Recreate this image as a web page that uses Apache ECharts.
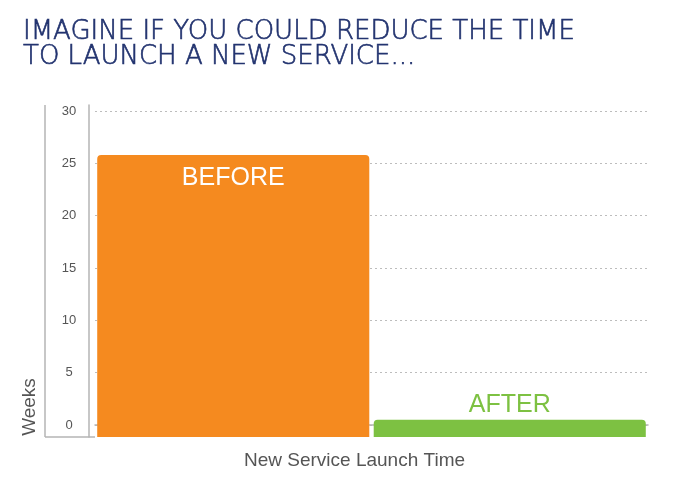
<!DOCTYPE html>
<html>
<head>
<meta charset="utf-8">
<script src="https://cdn.jsdelivr.net/npm/echarts@6/dist/echarts.min.js"></script>
<style>
	html, body { margin: 0; padding: 0; background: #fff; }
	#main { width: 680px; height: 497px; }
</style>
</head>
<body>
<div id="main"></div>
<script>
// 数据
const categories = ['BEFORE', 'AFTER'];
const weeks = [25.8, 0.5]; // 读图估计（周）
const labelValues = [0, 5, 10, 15, 20, 25, 30];
const barColors = ['#f58a1f', '#7dc142'];
const labelColors = ['#ffffff', '#7dc142'];

const AXIS_FLOOR = -1.15; // 原图柱子底部略低于0刻度
const AXIS_TOP = 30.57;

const grey = '#b4b4b4';
const navy = '#22336f';

const myChart = echarts.init(document.getElementById('main'));
myChart.setOption({
	animation: false,
	title: {
		text: 'IMAGINE IF YOU COULD REDUCE THE TIME\nTO LAUNCH A NEW SERVICE...',
		left: 18,
		top: 15,
		textStyle: {
			fontFamily: 'DejaVu Sans',
			fontWeight: 200,
			fontSize: 26,
			lineHeight: 25,
			color: navy,
			textBorderColor: navy,
			textBorderWidth: 0.6,
		},
	},
	grid: { left: 95, right: 32, top: 105, bottom: 60 },
	xAxis: {
		type: 'category',
		data: categories,
		axisLine: { lineStyle: { color: grey, width: 1.5 } },
		axisTick: { show: false },
		axisLabel: { show: false },
		name: 'New Service Launch Time',
		nameLocation: 'middle',
		nameGap: 14,
		nameTextStyle: {
			fontFamily: 'Liberation Sans',
			fontSize: 19,
			color: '#555',
			padding: [0, 34, 0, 0],
		},
	},
	yAxis: {
		type: 'value',
		min: AXIS_FLOOR,
		max: AXIS_TOP,
		offset: 6,
		axisLine: { show: true, lineStyle: { color: grey, width: 1.5 } },
		axisTick: { show: false, customValues: labelValues },
		axisLabel: {
			customValues: labelValues,
			align: 'center',
			margin: 20,
			fontFamily: 'Liberation Sans',
			fontSize: 13,
			color: '#555',
		},
		splitLine: { lineStyle: { color: '#bdbdbd', type: [2, 3], width: 1 } },
	},
	graphic: [
		{ type: 'line', shape: { x1: 45, y1: 105, x2: 45, y2: 437 }, style: { stroke: grey, lineWidth: 1.5 } },
		{ type: 'line', shape: { x1: 45, y1: 437, x2: 95, y2: 437 }, style: { stroke: grey, lineWidth: 1.5 } },
		{
			type: 'text',
			x: 30,
			y: 407,
			rotation: Math.PI / 2,
			style: {
				text: 'Weeks',
				fontFamily: 'Liberation Sans',
				fontSize: 19,
				fill: '#555',
				align: 'center',
				verticalAlign: 'middle',
			},
		},
	],
	series: [
		{
			// 柱子延伸到0刻度以下的部分
			type: 'bar',
			stack: 'w',
			barCategoryGap: '1.6%',
			silent: true,
			data: categories.map((c, i) => ({
				value: AXIS_FLOOR,
				itemStyle: { color: barColors[i] },
			})),
		},
		{
			type: 'bar',
			stack: 'w',
			barCategoryGap: '1.6%',
			data: weeks.map((v, i) => ({
				value: v,
				itemStyle: { color: barColors[i], borderRadius: [4, 4, 0, 0] },
				label: {
					show: true,
					position: i === 0 ? 'insideTop' : 'top',
					distance: i === 0 ? 11 : 2,
					formatter: categories[i],
					fontFamily: 'Liberation Sans',
					fontSize: 25,
					color: labelColors[i],
				},
			})),
		},
	],
});
</script>
</body>
</html>
